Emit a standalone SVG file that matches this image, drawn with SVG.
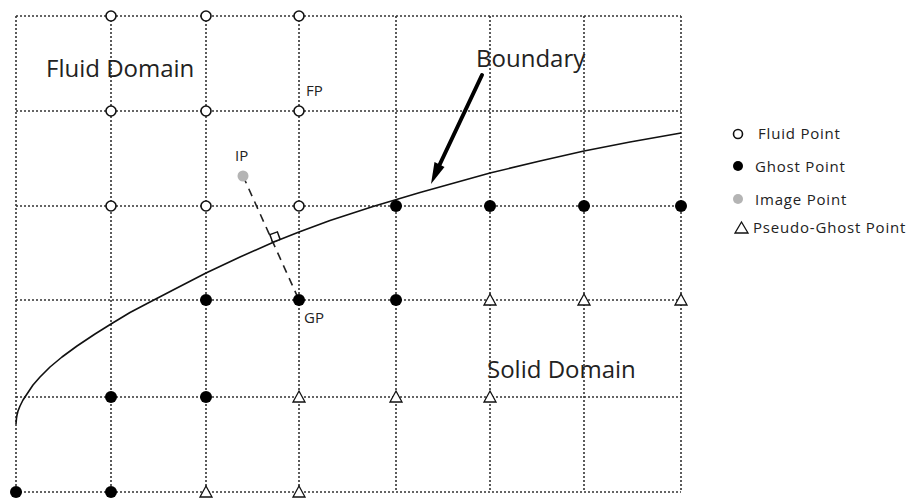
<svg xmlns="http://www.w3.org/2000/svg" width="907" height="498" viewBox="0 0 907 498">
<style>
.grid{stroke:#333;stroke-width:1.6;stroke-dasharray:2 2;fill:none}
.fp{fill:#fff;stroke:#111;stroke-width:1.6}
.gp{fill:#000}
.ip{fill:#b4b4b4}
.pg{fill:#fff;stroke:#111;stroke-width:1.3}
.big{font-family:"Open Sans","Noto Sans",sans-serif;font-size:24px;fill:#222}
.lbl{font-family:"Open Sans","Noto Sans",sans-serif;font-size:15px;fill:#222}
.leg{font-family:"Open Sans","Noto Sans",sans-serif;font-size:15px;fill:#222;letter-spacing:0.8px}
</style>
<defs>
<path id="tri" d="M0,-6 L6,5 L-6,5 Z"/>
</defs>
<rect width="907" height="498" fill="#fff"/>
<g id="grid">
<path class="grid" d="M16,16V492M111,16V492M206,16V492M299,16V492M396,16V492M490,16V492M584,16V492M681,16V492"/>
<path class="grid" d="M16,16H681M16,111H681M16,206H681M16,300H681M16,397H681M16,492H681"/>
</g>
<g id="connectors">
<polyline id="boundary-curve" points="16,424 16.5,418 17,415 18,411 20,406 23,400 27,394 33,385 40,377 50,367 62,357 77,346 95,334 111,324 130,312.5 150,302 175,289 206,273 240,257 275,241.5 299,232 330,220.5 373,206.5 420,192.5 490,173 540,161 584,151 630,142 681,133" fill="none" stroke="#111" stroke-width="1.6" stroke-linejoin="round"/>
<line id="ip-gp" x1="243" y1="176" x2="299" y2="300" stroke="#222" stroke-width="1.6" stroke-dasharray="8 6"/>
<g id="boundary-arrow">
<line x1="482" y1="75" x2="439" y2="166" stroke="#000" stroke-width="4" stroke-linecap="round"/>
<path d="M431,184 L434.5,162 L444.5,167 Z" fill="#000"/>
</g>
</g>
<g id="fluid-points">
<circle class="fp" cx="111" cy="16" r="5"/><circle class="fp" cx="206" cy="16" r="5"/><circle class="fp" cx="299" cy="16" r="5"/>
<circle class="fp" cx="111" cy="111" r="5"/><circle class="fp" cx="206" cy="111" r="5"/><circle class="fp" cx="299" cy="111" r="5"/>
<circle class="fp" cx="111" cy="206" r="5"/><circle class="fp" cx="206" cy="206" r="5"/><circle class="fp" cx="299" cy="206" r="5"/>
</g>
<g id="ghost-points">
<circle class="gp" cx="396" cy="206" r="6"/><circle class="gp" cx="490" cy="206" r="6"/><circle class="gp" cx="584" cy="206" r="6"/><circle class="gp" cx="681" cy="206" r="6"/>
<circle class="gp" cx="206" cy="300" r="6"/><circle class="gp" cx="299" cy="300" r="6"/><circle class="gp" cx="396" cy="300" r="6"/>
<circle class="gp" cx="111" cy="397" r="6"/><circle class="gp" cx="206" cy="397" r="6"/>
<circle class="gp" cx="16" cy="492" r="6"/><circle class="gp" cx="111" cy="492" r="6"/>
</g>
<g id="pseudo-ghost-points">
<use href="#tri" class="pg" x="490" y="300"/><use href="#tri" class="pg" x="584" y="300"/><use href="#tri" class="pg" x="681" y="300"/>
<use href="#tri" class="pg" x="299" y="397"/><use href="#tri" class="pg" x="396" y="397"/><use href="#tri" class="pg" x="490" y="397"/>
<use href="#tri" class="pg" x="206" y="492"/><use href="#tri" class="pg" x="299" y="492"/>
</g>
<g id="image-point">
<circle class="ip" cx="243" cy="176" r="5.5"/>
<rect x="271" y="233" width="8" height="8" fill="#fff" stroke="#111" stroke-width="1.5" transform="rotate(-20 275 237)"/>
</g>
<g id="labels">
<text class="big" x="46" y="77">Fluid Domain</text>
<text class="big" x="476" y="67">Boundary</text>
<text class="big" x="487" y="378">Solid Domain</text>
<text class="lbl" x="306" y="96">FP</text>
<text class="lbl" x="235" y="161">IP</text>
<text class="lbl" x="304" y="323">GP</text>
</g>
<g id="legend">
<circle class="fp" cx="738" cy="134" r="4.5" stroke-width="1.4"/>
<text class="leg" x="758" y="139">Fluid Point</text>
<circle class="gp" cx="738" cy="166" r="5"/>
<text class="leg" x="755" y="172">Ghost Point</text>
<circle class="ip" cx="738" cy="199" r="5"/>
<text class="leg" x="755" y="205">Image Point</text>
<path d="M741.5,222 L748,233 L735,233 Z" fill="#fff" stroke="#111" stroke-width="1.3"/>
<text class="leg" x="753" y="233">Pseudo-Ghost Point</text>
</g>
</svg>
